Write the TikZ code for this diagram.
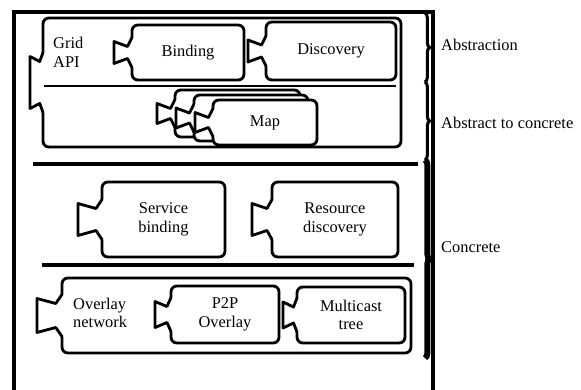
\documentclass[tikz,border=0pt]{standalone}
\usepackage{fontspec}
\setmainfont{Liberation Serif}
\usetikzlibrary{decorations.pathreplacing}
\tikzstyle{component} = [draw, fill=white, line width=2.4pt, rounded corners=5pt, outer sep=0pt, inner sep=0pt, align=center]
\tikzstyle{tab} = [line width=2.4pt, line join=round, line cap=round]
\tikzstyle{rule} = [line width=2.6pt]
\tikzstyle{frame} = [line width=2.6pt]
\tikzstyle{layer} = [decorate, decoration={brace, amplitude=4pt}, line width=2.6pt]
\tikzstyle{lbl} = [anchor=west, inner sep=0pt, align=left]
\tikzset{sz/.style 2 args={minimum width=#1*0.03cm, minimum height=#2*0.03cm}}
% tab on the left side of a component: node, depth, half height (px)
\newcommand{\comptab}[3]{%
	\fill[white] ([shift={(0,-#3-4)}]#1.west) -- ([shift={(-0.25*#2,-#3+5)}]#1.west) -- ([shift={(-#2,-#3)}]#1.west) -- ([shift={(-#2,#3)}]#1.west) -- ([shift={(-0.25*#2,#3-5)}]#1.west) -- ([shift={(0,#3+4)}]#1.west) -- ([shift={(2,#3+4)}]#1.west) -- ([shift={(2,-#3-4)}]#1.west) -- cycle;
	\draw[tab] ([shift={(0,-#3-4)}]#1.west) -- ([shift={(-0.25*#2,-#3+5)}]#1.west) -- ([shift={(-#2,-#3)}]#1.west) -- ([shift={(-#2,#3)}]#1.west) -- ([shift={(-0.25*#2,#3-5)}]#1.west) -- ([shift={(0,#3+4)}]#1.west);
}
\begin{document}
\begin{tikzpicture}[x=0.03cm, y=-0.03cm, font=\rmfamily\fontsize{14}{16}\selectfont]
	\useasboundingbox (0,0) rectangle (581,390);
	\draw[frame] (14,390) -- (14,12) -- (433,12) -- (433,390);

	% abstraction part
	\node[component, sz={358}{129}] (gridapi) at (222,82.5) {};
	\comptab{gridapi}{13}{26}
	\node[lbl] (gridlbl) at (53,52) {Grid\\API};
	\coordinate (gsep l) at (44,86);
	\coordinate (gsep r) at (396,86);
	\draw[line width=2pt] (gsep l) -- (gsep r);
	\node[component, sz={112}{55}] (binding) at (188,52.5) {Binding};
	\comptab{binding}{18}{11}
	\node[component, sz={130}{58}] (discovery) at (331,51) {Discovery};
	\comptab{discovery}{18}{11}
	\node[component, sz={125}{47}] (map3) at (237.5,113.5) {};
	\comptab{map3}{18}{10}
	\node[component, sz={114}{46}] (map2) at (251,118) {};
	\comptab{map2}{18}{10}
	\node[component, sz={104}{45}] (map) at (265,122.5) {Map};
	\comptab{map}{18}{10}

	% concrete part
	\coordinate (sep1 l) at (33,164);
	\coordinate (sep1 r) at (418,164);
	\draw[rule] (sep1 l) -- (sep1 r);
	\node[component, sz={123}{75}] (svcbind) at (163.5,219.5) {Service\\binding};
	\comptab{svcbind}{24}{16}
	\node[component, sz={126}{75}] (resdisc) at (335,219.5) {Resource\\discovery};
	\comptab{resdisc}{20}{16}
	\coordinate (sep2 l) at (42,265);
	\coordinate (sep2 r) at (414,265);
	\draw[rule] (sep2 l) -- (sep2 r);
	\node[component, sz={349}{75}] (overlay) at (236.5,315.5) {};
	\comptab{overlay}{25}{17}
	\node[lbl] (ovlbl) at (73,313) {Overlay\\network};
	\node[component, sz={108}{57}] (p2p) at (225,314.5) {P2P\\Overlay};
	\comptab{p2p}{16}{13}
	\node[component, sz={108}{56}] (mcast) at (351,315) {Multicast\\tree};
	\comptab{mcast}{14}{13}

	% layers
	\coordinate (abs top) at (425,13);
	\coordinate (abs bot) at (425,82);
	\coordinate (atc bot) at (425,160);
	\coordinate (con bot) at (425,358);
	\draw[layer] (abs top) -- (abs bot);
	\draw[layer] (abs bot) -- (atc bot);
	\draw[layer, line width=5pt] (atc bot) -- (con bot);
	\node[lbl] (abstraction) at (441,45) {Abstraction};
	\node[lbl] (abstoconc) at (441,123) {Abstract to concrete};
	\node[lbl] (concrete) at (441,247) {Concrete};
\end{tikzpicture}
\end{document}
